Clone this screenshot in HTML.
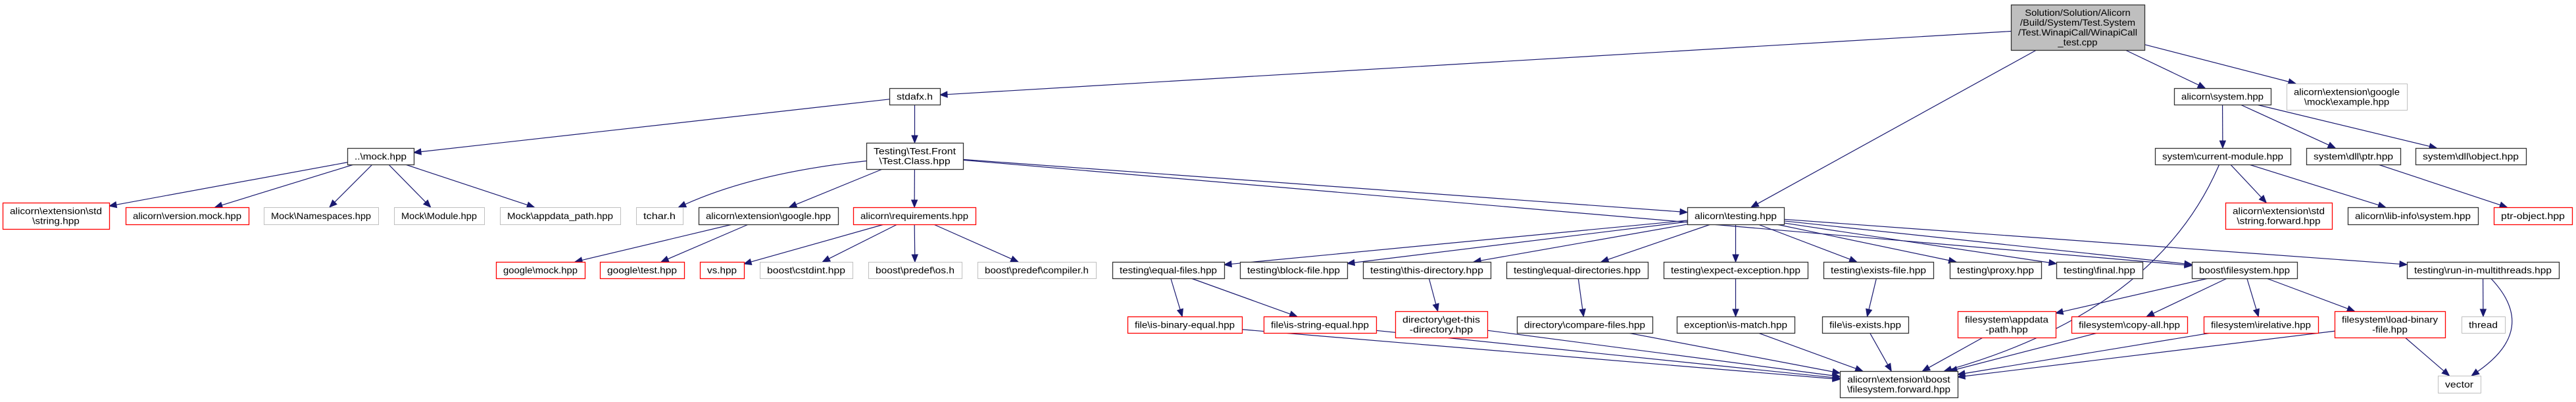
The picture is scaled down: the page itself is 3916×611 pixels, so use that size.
<!DOCTYPE html>
<html><head><meta charset="utf-8">
<style>
html,body{margin:0;padding:0;background:#fff;}
svg{display:block;}
text{font-family:"Liberation Sans","DejaVu Sans",sans-serif;font-size:14px;fill:#000;}
</style></head>
<body>
<svg id="g" xmlns="http://www.w3.org/2000/svg" width="3916" height="611" viewBox="0 0 3916 611">
<rect width="3916" height="611" fill="#fff"/>
<g id="edges"></g><g id="nodes"></g>
</svg>
<script>
(function(){
var K='#000000',R='#ff0000',G='#bfbfbf';
var N={
root:[3057,3260,7,76,K,["Solution/Solution/Alicorn","/Build/System/Test.System","/Test.WinapiCall/WinapiCall","_test.cpp"],1],
stdafx:[1352,1429,134,159,K,["stdafx.h"]],
system:[3305,3452,134,159,K,["alicorn\\system.hpp"]],
gex:[3476,3659,127,167,G,["alicorn\\extension\\google","\\mock\\example.hpp"]],
mock:[528,629,225,250,K,["..\\mock.hpp"]],
tc:[1317,1464,217,257,K,["Testing\\Test.Front","\\Test.Class.hpp"]],
cm:[3276,3482,225,250,K,["system\\current-module.hpp"]],
dllptr:[3506,3649,225,250,K,["system\\dll\\ptr.hpp"]],
dllobj:[3672,3840,225,250,K,["system\\dll\\object.hpp"]],
strh:[4,166,308,348,R,["alicorn\\extension\\std","\\string.hpp"]],
vmock:[191,378,315,341,R,["alicorn\\version.mock.hpp"]],
ns:[401,575,315,341,G,["Mock\\Namespaces.hpp"]],
mod:[599,736,315,341,G,["Mock\\Module.hpp"]],
app:[760,943,315,341,G,["Mock\\appdata_path.hpp"]],
tchar:[967,1038,315,341,G,["tchar.h"]],
ggl:[1062,1274,315,341,K,["alicorn\\extension\\google.hpp"]],
req:[1297,1483,315,341,R,["alicorn\\requirements.hpp"]],
testing:[2565,2712,315,341,K,["alicorn\\testing.hpp"]],
sfwd:[3383,3545,308,348,R,["alicorn\\extension\\std","\\string.forward.hpp"]],
lib:[3569,3767,315,341,K,["alicorn\\lib-info\\system.hpp"]],
ptro:[3791,3910,315,341,R,["ptr-object.hpp"]],
gmock:[754,889,398,423,R,["google\\mock.hpp"]],
gtest:[912,1040,398,423,R,["google\\test.hpp"]],
vs:[1064,1131,398,423,R,["vs.hpp"]],
cstd:[1155,1296,398,423,G,["boost\\cstdint.hpp"]],
os:[1320,1462,398,423,G,["boost\\predef\\os.h"]],
comp:[1486,1666,398,423,G,["boost\\predef\\compiler.h"]],
ef:[1691,1861,398,423,K,["testing\\equal-files.hpp"]],
bf:[1885,2048,398,423,K,["testing\\block-file.hpp"]],
td:[2072,2266,398,423,K,["testing\\this-directory.hpp"]],
ed:[2290,2505,398,423,K,["testing\\equal-directories.hpp"]],
ee:[2529,2748,398,423,K,["testing\\expect-exception.hpp"]],
ex:[2772,2939,398,423,K,["testing\\exists-file.hpp"]],
px:[2964,3103,398,423,K,["testing\\proxy.hpp"]],
fin:[3126,3257,398,423,K,["testing\\final.hpp"]],
bfs:[3332,3492,398,423,K,["boost\\filesystem.hpp"]],
rim:[3659,3890,398,423,K,["testing\\run-in-multithreads.hpp"]],
ibe:[1714,1888,481,506,R,["file\\is-binary-equal.hpp"]],
ise:[1921,2092,481,506,R,["file\\is-string-equal.hpp"]],
gtd:[2121,2261,473,513,R,["directory\\get-this","-directory.hpp"]],
cf:[2306,2512,481,506,K,["directory\\compare-files.hpp"]],
im:[2549,2728,481,506,K,["exception\\is-match.hpp"]],
ie:[2770,2901,481,506,K,["file\\is-exists.hpp"]],
fap:[2976,3125,473,513,R,["filesystem\\appdata","-path.hpp"]],
fca:[3149,3325,481,506,R,["filesystem\\copy-all.hpp"]],
frel:[3350,3524,481,506,R,["filesystem\\irelative.hpp"]],
flb:[3549,3717,473,513,R,["filesystem\\load-binary","-file.hpp"]],
thr:[3742,3808,481,506,G,["thread"]],
vec:[3706,3771,571,597,G,["vector"]],
ffwd:[2797,2976,564,604,K,["alicorn\\extension\\boost","\\filesystem.forward.hpp"]]
};
var E=[
["root","stdafx"],["root","testing"],["root","system"],["root","gex"],
["stdafx","mock"],["stdafx","tc"],
["mock","strh"],["mock","vmock"],["mock","ns"],["mock","mod"],["mock","app"],
["tc","tchar",[1150,262]],["tc","ggl"],["tc","req"],["tc","testing"],["tc","bfs"],
["ggl","gmock"],["ggl","gtest"],
["req","vs"],["req","cstd"],["req","os"],["req","comp"],
["testing","ef"],["testing","bf"],["testing","td"],["testing","ed"],["testing","ee"],["testing","ex"],["testing","px"],["testing","fin"],["testing","bfs"],["testing","rim"],
["ef","ibe"],["ef","ise"],["td","gtd"],["ed","cf"],["ee","im"],["ex","ie"],
["bfs","fap"],["bfs","fca"],["bfs","frel"],["bfs","flb"],
["ibe","ffwd"],["ise","ffwd"],["gtd","ffwd"],["cf","ffwd"],["im","ffwd"],["ie","ffwd"],["fap","ffwd"],["fca","ffwd"],["frel","ffwd"],["flb","ffwd"],
["cm","ffwd",[3280,470]],
["rim","thr"],["rim","vec",[3860,500]],["flb","vec"],
["system","cm"],["system","dllptr"],["system","dllobj"],["cm","sfwd"],["cm","lib"],["dllptr","ptro"]
];
var NS="http://www.w3.org/2000/svg";
function el(t,a,p){var e=document.createElementNS(NS,t);for(var k in a)e.setAttribute(k,a[k]);p.appendChild(e);return e;}
var gN=document.getElementById('nodes'),gE=document.getElementById('edges');
Object.keys(N).forEach(function(id){var n=N[id];var x=n[0],y=n[2],w=n[1]-n[0],h=n[3]-n[2];
 el('rect',{x:x+0.5,y:y+0.5,width:w,height:h,fill:n[6]?'#bfbfbf':'#fff',stroke:n[4]==K?'#333':n[4],'stroke-width':(n[4]==G?1:1.3)},gN);
 var L=n[5],cy=y+h/2,ty=cy-(L.length-1)*15/2,ts=[],mx=0;
 for(var i=0;i<L.length;i++){var t=el('text',{x:x+w/2,y:ty+i*15+5,'text-anchor':'middle'},gN);t.textContent=L[i];var l=t.getComputedTextLength();ts.push([t,l]);if(l>mx)mx=l;}
 if(mx>0){var r=(w-22)/mx;if(r>1.25)r=1.25;
 ts.forEach(function(q){q[0].setAttribute('textLength',(q[1]*r).toFixed(1));q[0].setAttribute('lengthAdjust','spacingAndGlyphs');});}
});
function clip(n,px,py,qx,qy){
 var x1=n[0],x2=n[1],y1=n[2],y2=n[3],dx=qx-px,dy=qy-py,t=1;
 if(dx>0)t=Math.min(t,(x2-px)/dx);if(dx<0)t=Math.min(t,(x1-px)/dx);
 if(dy>0)t=Math.min(t,(y2-py)/dy);if(dy<0)t=Math.min(t,(y1-py)/dy);
 return [px+dx*t,py+dy*t];}
function ctr(n){return [(n[0]+n[1])/2,(n[2]+n[3])/2];}
var C='#191970';
E.forEach(function(e){var a=N[e[0]],b=N[e[1]],ca=ctr(a),cb=ctr(b),v=e[2];
 var pa=v?v:cb,pb=v?v:ca;
 var s=clip(a,ca[0],ca[1],pa[0],pa[1]),t=clip(b,cb[0],cb[1],pb[0],pb[1]);
 var dx,dy;if(v){dx=t[0]-v[0];dy=t[1]-v[1];}else{dx=t[0]-s[0];dy=t[1]-s[1];}
 var len=Math.sqrt(dx*dx+dy*dy);dx/=len;dy/=len;
 var AL=11,AW=4.5,bx=t[0]-dx*AL,by=t[1]-dy*AL;
 var d=v?('M'+s[0]+','+s[1]+' Q'+v[0]+','+v[1]+' '+bx+','+by):('M'+s[0]+','+s[1]+' L'+bx+','+by);
 el('path',{d:d,fill:'none',stroke:C,'stroke-width':1.2},gE);
 el('polygon',{points:t[0]+','+t[1]+' '+(bx-dy*AW)+','+(by+dx*AW)+' '+(bx+dy*AW)+','+(by-dx*AW),fill:C,stroke:C},gE);
});
})();
</script>
</body></html>
